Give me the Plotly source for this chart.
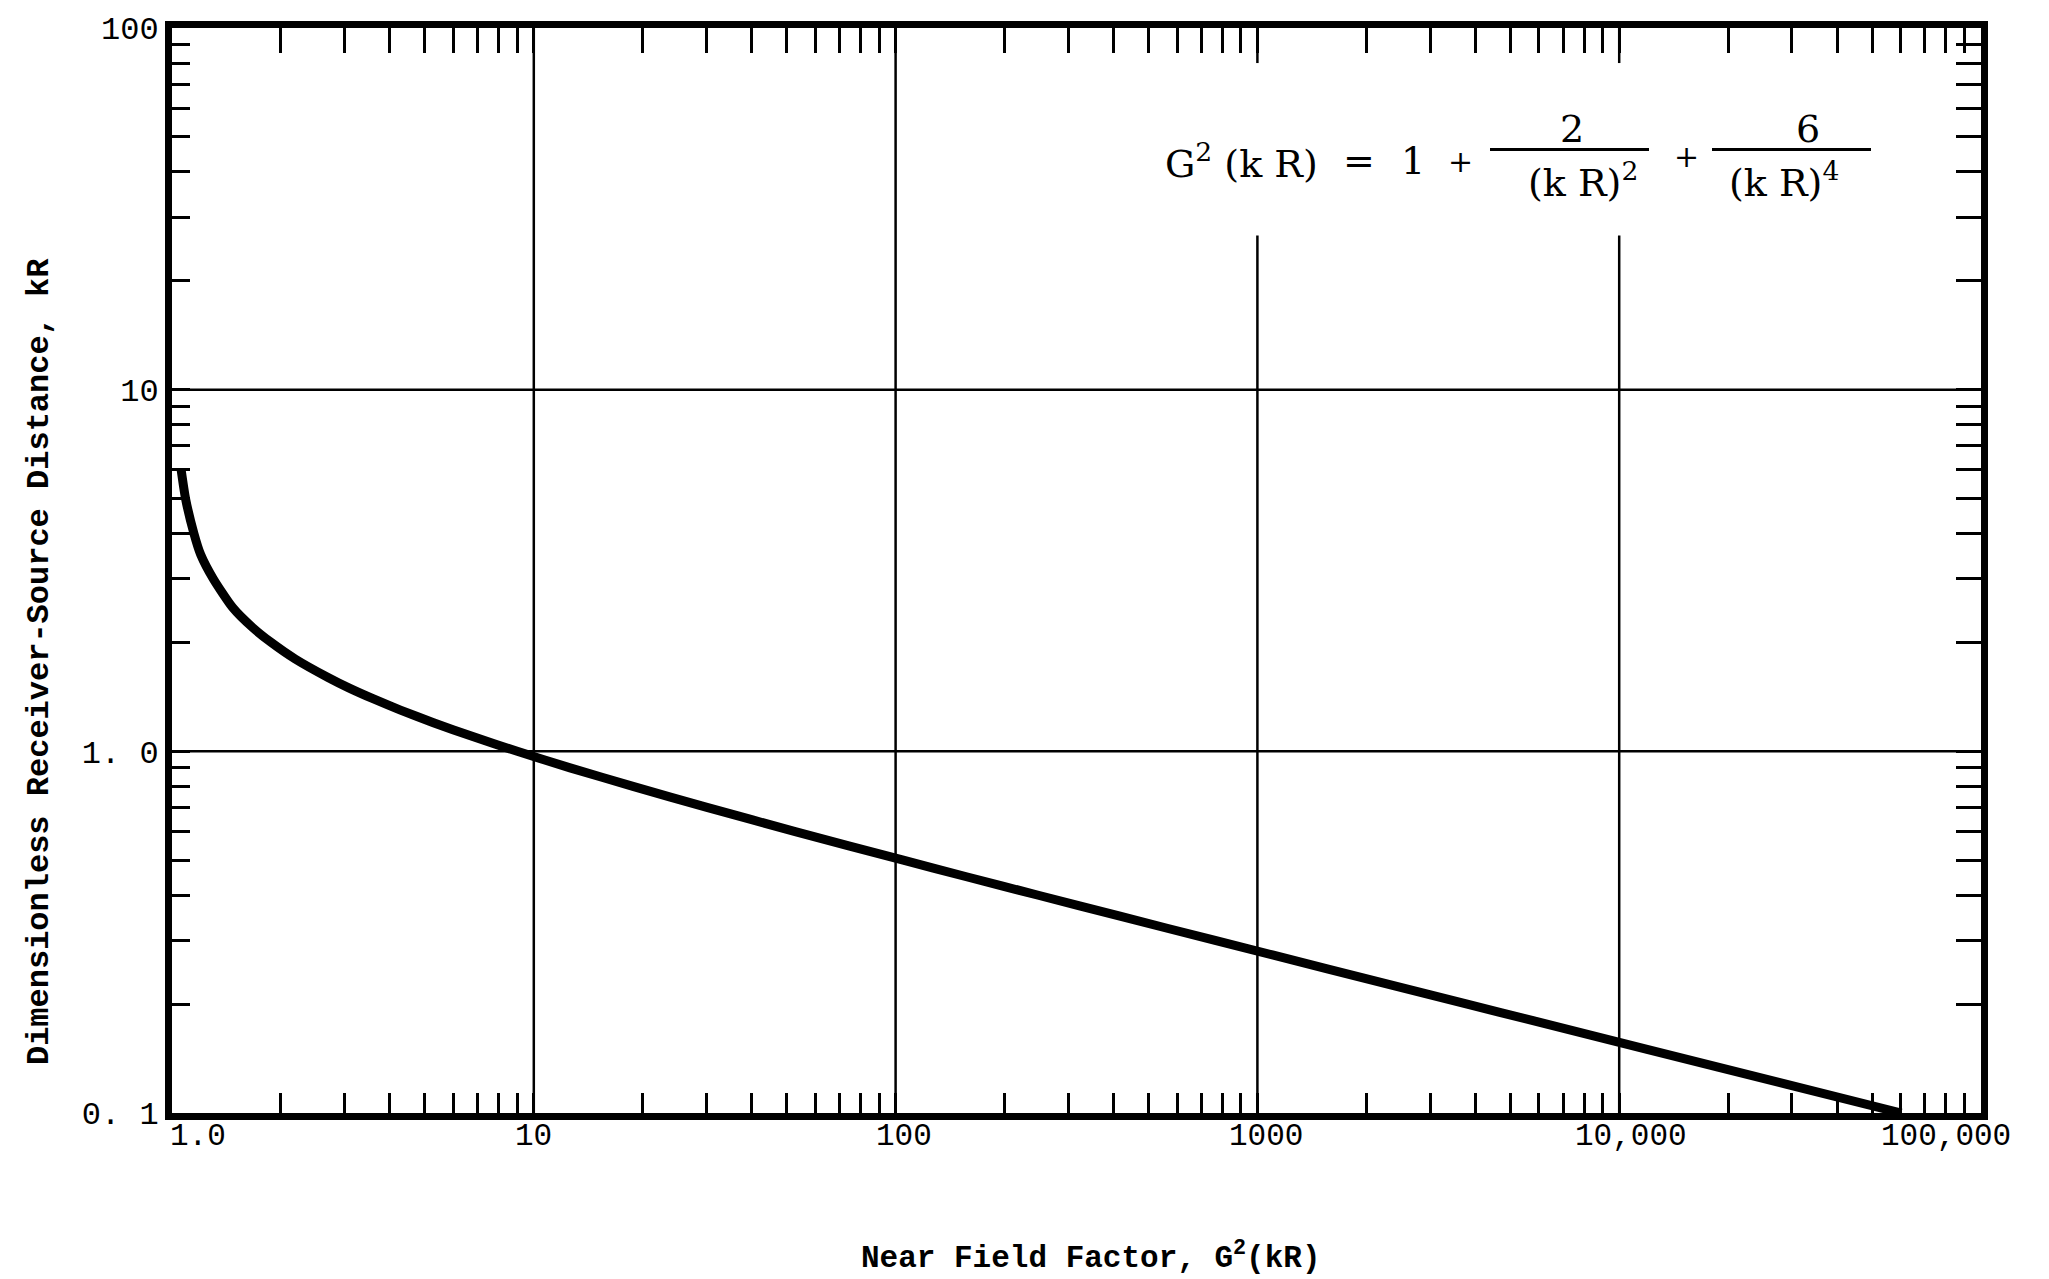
import math
import plotly.graph_objects as go

# Dimensionless receiver-source distance kR and the near field factor G^2(kR)
kr_values = [6.0, 5.0, 4.0, 3.5, 3.0, 2.5, 2.2, 2.0, 1.8, 1.6, 1.5, 1.4, 1.3, 1.2, 1.1, 1.0,
             0.9, 0.8, 0.7, 0.6, 0.5, 0.45, 0.4, 0.35, 0.3, 0.25, 0.2, 0.18, 0.15, 0.12, 0.1]
g2_values = [1.06, 1.09, 1.15, 1.20, 1.30, 1.47, 1.67, 1.88, 2.19, 2.70, 3.07, 3.58, 4.28, 5.28,
             6.75, 9.0, 12.6, 18.8, 30.1, 52.8, 105, 157, 248, 417, 764, 1569, 3801, 5778,
             11942, 29075, 60201]

x_decades = [1, 10, 100, 1000, 10000, 100000]
x_tick_labels = ["1.0", "10", "100", "1000", "10,000", "100,000"]
y_decades = [0.1, 1, 10, 100]
y_tick_labels = ["0. 1", "1. 0", "10", "100"]

x_grid = [10, 100, 1000, 10000]
y_grid = [1, 10]

# figure geometry (pixels)
W, H = 2049, 1279
L, R, T, B = 172, 1981, 23, 1113

MONO = "Liberation Mono"
SERIF = "DejaVu Serif"


def px(x):
    return (x - L) / (R - L)


def py(y):
    return (B - y) / (B - T)


def minor_ticks(decades):
    vals = []
    for d in decades[:-1]:
        for m in range(1, 10):
            vals.append(d * m)
    vals.append(decades[-1])
    return vals


xt_vals = minor_ticks(x_decades)
yt_vals = minor_ticks(y_decades)
yt_text = []
for v in yt_vals:
    lab = ""
    for d, t in zip(y_decades, y_tick_labels):
        if abs(v - d) < 1e-9 * max(1, d):
            lab = t
    yt_text.append(lab)

# decade grid lines; the upper ones stop short around the formula
formula_gap = (26.7, 80.0)
gx, gy = [], []
for g in x_grid:
    if g >= 1000:
        gx += [g, g, None, g, g, None]
        gy += [y_decades[0], formula_gap[0], None, formula_gap[1], y_decades[-1], None]
    else:
        gx += [g, g, None]
        gy += [y_decades[0], y_decades[-1], None]
for g in y_grid:
    gx += [x_decades[0], x_decades[-1], None]
    gy += [g, g, None]

fig = go.Figure()
fig.add_trace(go.Scatter(x=gx, y=gy, mode="lines", line=dict(color="black", width=2.5),
                         hoverinfo="skip", showlegend=False))
fig.add_trace(go.Scatter(x=g2_values, y=kr_values, mode="lines",
                         line=dict(color="black", width=9, shape="spline", smoothing=0.6),
                         showlegend=False))
# companion axes carrying the longer ticks along the top and right edges
fig.add_trace(go.Scatter(x=[x_decades[0]], y=[y_decades[0]], xaxis="x2", yaxis="y2",
                         mode="markers", marker=dict(opacity=0), hoverinfo="skip",
                         showlegend=False))

tick_style = dict(type="log", ticks="inside", tickwidth=3, tickcolor="black",
                  showgrid=False, zeroline=False, tickmode="array")

fig.update_layout(
    xaxis=dict(range=[0, 5], tickvals=xt_vals, showticklabels=False, ticklen=20,
               showline=True, linewidth=7, linecolor="black", mirror=True, **tick_style),
    yaxis=dict(range=[-1, 2], tickvals=yt_vals, ticktext=yt_text, ticklen=18,
               tickfont=dict(family=MONO, size=32, color="black"),
               showline=True, linewidth=7, linecolor="black", mirror=True, **tick_style),
    xaxis2=dict(range=[0, 5], overlaying="x", side="top", anchor="y2", tickvals=xt_vals,
                showticklabels=False, ticklen=25, showline=False, **tick_style),
    yaxis2=dict(range=[-1, 2], overlaying="y", side="right", anchor="x2", tickvals=yt_vals,
                showticklabels=False, ticklen=25, showline=False, **tick_style),
)

ann = []


def text(x, y, s, size=38, family=SERIF, anchor="center", **kw):
    ann.append(dict(x=px(x), y=py(y), xref="paper", yref="paper", text=s, showarrow=False,
                    xanchor=anchor, yanchor="middle",
                    font=dict(family=family, size=size, color="black"), **kw))


# formula
text(1163, 157, "G<sup>2</sup> (k R)", anchor="left")
text(1359, 157, "=")
text(1413, 157, "1")
text(1460, 157, "+", size=30)
text(1572, 124, "2")
text(1583, 176, "(k R)<sup>2</sup>")
text(1686, 152, "+", size=30)
text(1808, 124, "6")
text(1784, 176, "(k R)<sup>4</sup>")

# x tick labels, nudged off the frame corners
x_label_shift = [26, 0, 8, 9, 12, -35]
for v, lab, dx in zip(x_decades, x_tick_labels, x_label_shift):
    ann.append(dict(x=math.log10(v), y=py(1137), xref="x", yref="paper", text=lab,
                    showarrow=False, xanchor="center", yanchor="middle", xshift=dx,
                    font=dict(family=MONO, size=31, color="black")))

# axis titles
text(39, 660, "<b>Dimensionless Receiver-Source Distance, kR</b>", size=32, family=MONO,
     textangle=-90)
text(1091, 1257, "<b>Near Field Factor, G<sup>2</sup>(kR)</b>", size=31, family=MONO)

shapes = []
for x0, x1 in [(1490, 1649), (1712, 1871)]:
    shapes.append(dict(type="line", xref="paper", yref="paper", x0=px(x0), x1=px(x1),
                       y0=py(145), y1=py(145), line=dict(color="black", width=3)))

fig.update_layout(
    width=W, height=H, margin=dict(l=L, r=W - R, t=T, b=H - B),
    plot_bgcolor="white", paper_bgcolor="white",
    annotations=ann, shapes=shapes, showlegend=False,
)

fig.write_html("out.html")
